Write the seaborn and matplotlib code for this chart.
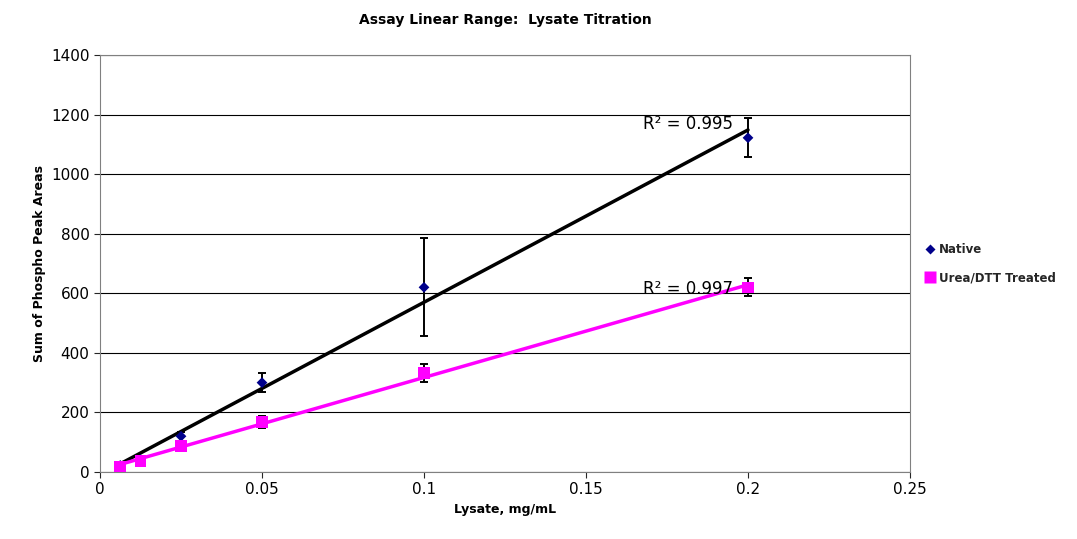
import numpy as np
import pandas as pd
import matplotlib.pyplot as plt
import seaborn as sns

sns.set_style('white')

lysate = [0.00625, 0.0125, 0.025, 0.05, 0.1, 0.2]
native = [22, 42, 120, 300, 620, 1122]
native_err = [5, 8, 15, 32, 165, 65]
urea = [17, 37, 88, 168, 332, 620]
urea_err = [5, 8, 10, 20, 30, 30]

df = pd.DataFrame({'x': lysate * 2, 'y': native + urea,
                   'series': ['Native'] * 6 + ['Urea/DTT Treated'] * 6})

fig = plt.figure(figsize=(10.77, 5.39), dpi=100)
ax = fig.add_axes([100 / 1077, 1 - 472 / 539, 810 / 1077, 417 / 539])

colors = {'Native': '#00008B', 'Urea/DTT Treated': '#FF00FF'}
markers = {'Native': 'D', 'Urea/DTT Treated': 's'}
sizes = {'Native': 30, 'Urea/DTT Treated': 70}

for name, vals, err, lc in [('Native', native, native_err, 'black'),
                            ('Urea/DTT Treated', urea, urea_err, '#FF00FF')]:
    ax.errorbar(lysate, vals, yerr=err, fmt='none', ecolor='black', elinewidth=1.4, capsize=3, capthick=1.4, zorder=2)
    k, b = np.polyfit(lysate, vals, 1)
    xs = np.array([lysate[0], lysate[-1]])
    ax.plot(xs, k * xs + b, color=lc, lw=2.5, zorder=3)

sns.scatterplot(data=df, x='x', y='y', hue='series', style='series', palette=colors,
                markers=markers, size='series', sizes=sizes, edgecolor='none', ax=ax, zorder=4)

ax.text(0.1955, 1150, 'R² = 0.995', ha='right', fontsize=12, color='black')
ax.text(0.1955, 598, 'R² = 0.997', ha='right', fontsize=12, color='black')

ax.set_xlim(0, 0.25)
ax.set_ylim(0, 1400)
ax.set_xticks([0, 0.05, 0.1, 0.15, 0.2, 0.25])
ax.set_xticklabels(['0', '0.05', '0.1', '0.15', '0.2', '0.25'])
ax.set_yticks(range(0, 1401, 200))
ax.yaxis.grid(True, color='black', lw=0.8)
ax.tick_params(labelsize=11, labelcolor='black', direction='out', length=4, left=True, bottom=True)
for s in ax.spines.values():
    s.set_color('#808080')
ax.set_xlabel('Lysate, mg/mL', fontsize=9, fontweight='bold', color='black')
ax.set_ylabel('Sum of Phospho Peak Areas', fontsize=9, fontweight='bold', color='black')
ax.set_title('Assay Linear Range:  Lysate Titration', fontsize=10, fontweight='bold', pad=22, color='black')

h, l = ax.get_legend_handles_labels()
ax.legend(h[-2:], l[-2:], loc='center left', bbox_to_anchor=(1.01, 0.5), frameon=False,
          prop={'size': 8.5, 'weight': 'bold'}, handletextpad=0.2, labelspacing=1.3,
          borderaxespad=0, handlelength=1.2)

fig.savefig('out.png', dpi=100)
